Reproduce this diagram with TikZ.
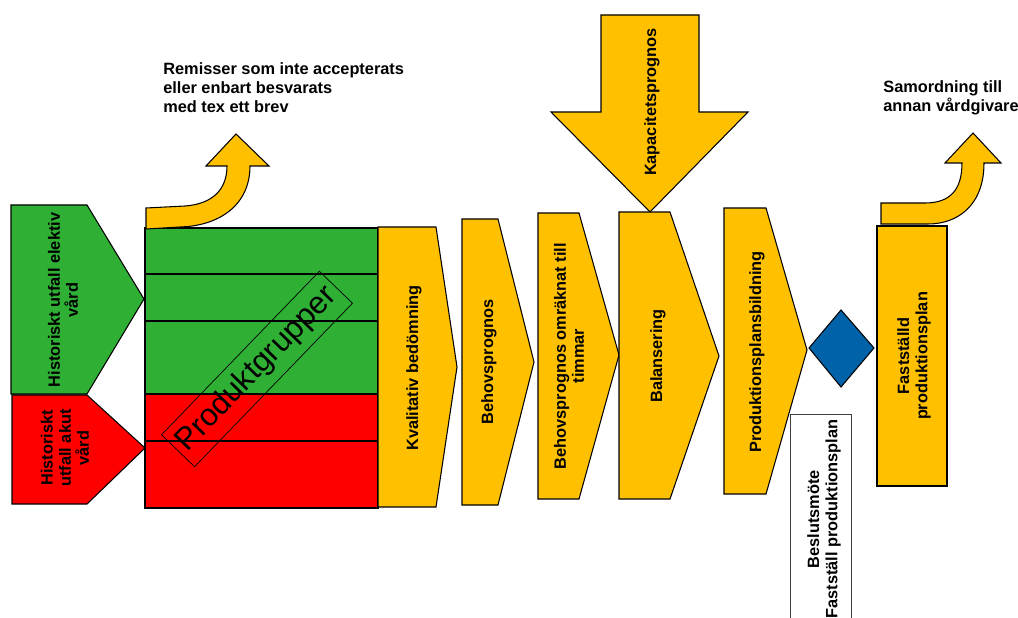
\documentclass[tikz,border=0pt]{standalone}
\usepackage{fontspec}
\setmainfont{Liberation Sans}
\definecolor{grn}{HTML}{2FB034}
\definecolor{rd}{HTML}{FF0000}
\definecolor{amber}{HTML}{FFC000}
\definecolor{navy}{HTML}{0062A9}
\tikzset{
  outl/.style={draw=black, line width=0.6pt, line join=miter},
  yel/.style={outl, fill=amber},
  row/.style={draw=black, line width=1pt},
  lab/.style={font=\bfseries\fontsize{9.3}{10.3}\selectfont, align=center, inner sep=0pt},
  vlab/.style={lab, rotate=90},
  toplab/.style={lab, font=\bfseries\fontsize{9.3}{10.9}\selectfont, anchor=north west, align=left},
}

\begin{document}
\begin{tikzpicture}[x=0.02cm, y=-0.02cm]
  \useasboundingbox (0,0) rectangle (1018,618);

  % historical outcome, elective and acute
  \draw[outl, fill=grn] (11,205) -- (87,205) -- (144,299) -- (87,394) -- (11,394) -- cycle;
  \draw[outl, fill=rd] (12,395) -- (87,395) -- (145,448) -- (87,504) -- (12,504) -- cycle;
  \node[vlab] (elektiv) at (63,300) {Historiskt utfall elektiv\\vård};
  \node[vlab] (akut) at (65,448) {Historiskt\\utfall akut\\vård};

  % product groups
  \foreach \ya/\yb/\c in {228/274/grn,274/321/grn,321/394/grn,394/441/rd,441/508/rd}{
    \draw[row, fill=\c] (145,\ya) rectangle (378,\yb);
  }
  \node[draw=black, line width=0.4pt, rotate=46, minimum width=4.52cm, minimum height=0.92cm,
        font=\fontsize{17.8}{20}\selectfont] (prodgrp) at (257,369) {Produktgrupper};

  % rejected referrals
  \draw[yel] (146,208) -- (185,206) .. controls (212,204) and (227,190) .. (227,166)
    -- (206,166) -- (236,134) -- (269,166) -- (250,166)
    .. controls (250,206) and (218,226) .. (180,227) -- (146,229) -- cycle;
  \node[toplab] (remiss) at (163,62)
    {Remisser som inte accepterats\\eller enbart besvarats\\med tex ett brev};

  % process chevrons
  \foreach \xl/\yt/\xr/\xt/\ym/\yb in {378/227/436/457/367/507, 462/219/498/534/362/505,
      538/213/579/619/355/499, 619/212/670/719/356/499, 724/208/766/807/350/494}{
    \draw[yel] (\xl,\yt) -- (\xr,\yt) -- (\xt,\ym) -- (\xr,\yb) -- (\xl,\yb) -- cycle;
  }
  \node[vlab] (kval) at (414,368) {Kvalitativ bedömning};
  \node[vlab] (behov) at (489,362) {Behovsprognos};
  \node[vlab] (timmar) at (569,356) {Behovsprognos omräknat till\\timmar};
  \node[vlab] (balans) at (658,356) {Balansering};
  \node[vlab] (bildning) at (757,352) {Produktionsplansbildning};

  % capacity forecast
  \draw[yel] (601,15) -- (699,15) -- (699,112) -- (748,112) -- (650,212) -- (551,112) -- (601,112) -- cycle;
  \node[vlab] (kapacitet) at (652,102) {Kapacitetsprognos};

  % decision
  \draw[outl, fill=navy] (809,348) -- (841,310) -- (874,348) -- (841,387) -- cycle;
  \draw[draw=black!75, line width=0.5pt] (790,618) |- (851,414) -- (851,618);
  \node[vlab] (beslut) at (824,519) {Beslutsmöte\\Fastställ produktionsplan};

  % established plan
  \draw[yel] (877,226) rectangle (947,486);
  \node[vlab] (faststalld) at (914,356) {Fastställd\\produktionsplan};
  \draw[yel] (881,203) -- (925,203) .. controls (950,203) and (962,190) .. (962,163)
    -- (945,163) -- (973,133) -- (1001,163) -- (984,163)
    .. controls (984,205) and (958,224) .. (928,224) -- (881,224) -- cycle;
  \node[toplab] (samordning) at (883,80) {Samordning till\\annan vårdgivare};
\end{tikzpicture}
\end{document}
